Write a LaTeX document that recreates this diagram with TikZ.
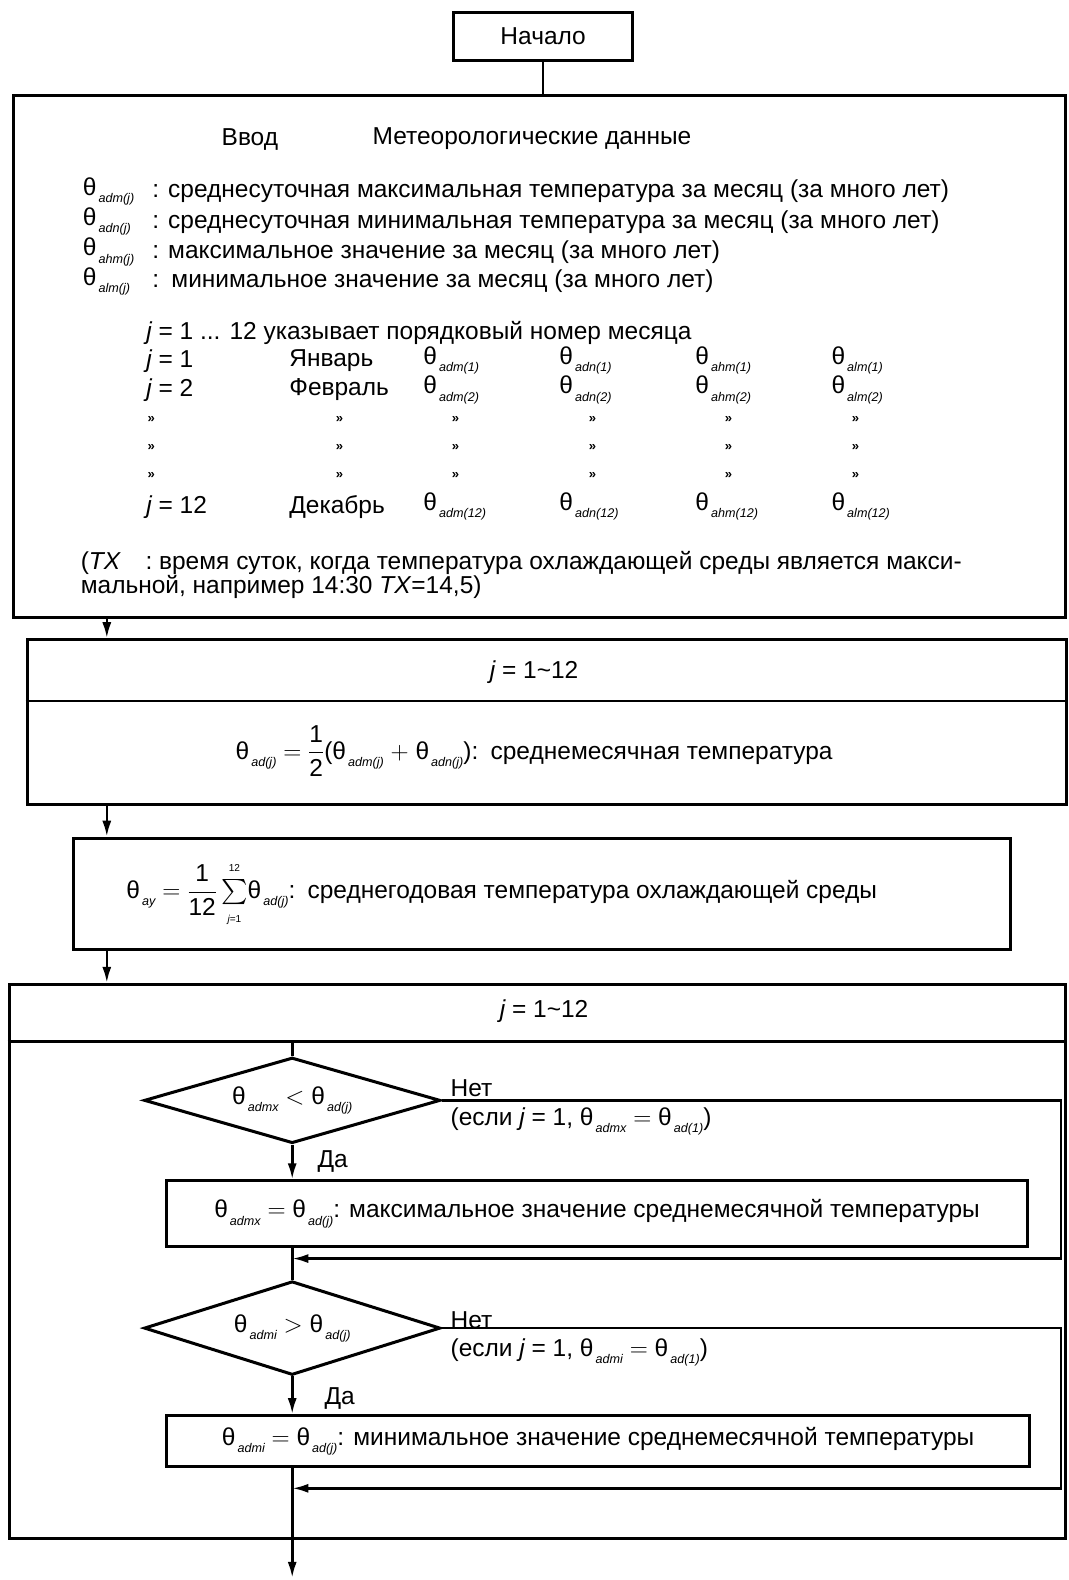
\documentclass[tikz,border=0pt]{standalone}
\usepackage{amsmath}
\usepackage{fontspec}
\setmainfont{Liberation Sans}
\usetikzlibrary{arrows.meta,shapes.geometric}

% theta with a low small italic index
\newcommand\tv[1]{θ\raisebox{-0.55ex}{\fontsize{12.5}{12.5}\selectfont\itshape\,#1}}
\newcommand\sml[1]{\mbox{\fontsize{10}{10}\selectfont #1}}

\begin{document}
\begin{tikzpicture}[x=1pt,y=-1pt,
  font=\fontsize{24.3}{28}\selectfont,
  box/.style={draw, line width=3pt, inner sep=0pt},
  dec/.style={draw, diamond, aspect=3.4, line width=3pt, inner sep=0pt},
  lbl/.style={anchor=west, inner sep=0pt},
  qq/.style={inner sep=0pt, font=\fontsize{13}{13}\selectfont\bfseries},
  line/.style={line width=2.6pt},
  arr/.style={line width=2.6pt, -{Latex[length=16pt,width=9pt]}}]

\useasboundingbox (0,0) rectangle (1060,1568);

%\draw[help lines] (0,0) grid[step=100] (1060,1568);
\node[box, minimum width=178pt, minimum height=48pt] (start) at (539,36) {Начало};

% input block
\node[box, minimum width=1044pt, minimum height=518pt] (inp) at (535,354) {};
\draw[line] (start.south) -- (inp.north -| start.south);
\node (vvod) at (248,138) {Ввод};
\node (meteo) at (528,138) {Метеорологические данные};
\node[lbl] (th1) at (82,190) {\tv{adm(j)}};
\node[lbl] (th2) at (82,220) {\tv{adn(j)}};
\node[lbl] (th3) at (82,250) {\tv{ahm(j)}};
\node[lbl] (th4) at (82,279) {\tv{alm(j)}};
\node[lbl] (col1) at (151,190) {: среднесуточная максимальная температура за месяц (за много лет)};
\node[lbl] (col2) at (151,220) {: среднесуточная минимальная температура за месяц (за много лет)};
\node[lbl] (col3) at (151,250) {: максимальное значение за месяц (за много лет)};
\node[lbl] (col4) at (151,279) {:\enspace минимальное значение за месяц (за много лет)};
\node[lbl] (jall) at (145,330) {{\itshape j} = 1 ... 12 указывает порядковый номер месяца};

\node[lbl] (j1) at (145,358) {{\itshape j} = 1};
\node[lbl] (jan) at (287,358) {Январь};
\node[lbl] (adm1) at (420,358) {\tv{adm(1)}};
\node[lbl] (adn1) at (555,358) {\tv{adn(1)}};
\node[lbl] (ahm1) at (690,358) {\tv{ahm(1)}};
\node[lbl] (alm1) at (825,358) {\tv{alm(1)}};
\node[lbl] (j2) at (145,387) {{\itshape j} = 2};
\node[lbl] (feb) at (287,387) {Февраль};
\node[lbl] (adm2) at (420,387) {\tv{adm(2)}};
\node[lbl] (adn2) at (555,387) {\tv{adn(2)}};
\node[lbl] (ahm2) at (690,387) {\tv{ahm(2)}};
\node[lbl] (alm2) at (825,387) {\tv{alm(2)}};
\node[qq] (q1a) at (150,416) {»};
\node[qq] (q1b) at (337,416) {»};
\node[qq] (q1c) at (452,416) {»};
\node[qq] (q1d) at (588,416) {»};
\node[qq] (q1e) at (723,416) {»};
\node[qq] (q1f) at (849,416) {»};
\node[qq] (q2a) at (150,444) {»};
\node[qq] (q2b) at (337,444) {»};
\node[qq] (q2c) at (452,444) {»};
\node[qq] (q2d) at (588,444) {»};
\node[qq] (q2e) at (723,444) {»};
\node[qq] (q2f) at (849,444) {»};
\node[qq] (q3a) at (150,472) {»};
\node[qq] (q3b) at (337,472) {»};
\node[qq] (q3c) at (452,472) {»};
\node[qq] (q3d) at (588,472) {»};
\node[qq] (q3e) at (723,472) {»};
\node[qq] (q3f) at (849,472) {»};
\node[lbl] (j12) at (145,503) {{\itshape j} = 12};
\node[lbl] (dec) at (287,503) {Декабрь};
\node[lbl] (adm12) at (420,503) {\tv{adm(12)}};
\node[lbl] (adn12) at (555,503) {\tv{adn(12)}};
\node[lbl] (ahm12) at (690,503) {\tv{ahm(12)}};
\node[lbl] (alm12) at (825,503) {\tv{alm(12)}};
\node[lbl] (tx1) at (80,559) {(\textit{TX}\quad: время суток, когда температура охлаждающей среды является макси-};
\node[lbl] (tx2) at (80,582) {мальной, например 14:30 \textit{TX}=14,5)};

% first loop
\coordinate (ax) at (106,0);
\node[box, minimum width=1031pt, minimum height=163pt] (loopa) at (542.5,716.5) {};
\draw[arr] (inp.south -| ax) -- (loopa.north -| ax);
\draw[line] ([yshift=-62pt]loopa.north west) -- ([yshift=-62pt]loopa.north east);
\node (hdra) at (530,667) {{\itshape j} = 1\textasciitilde12};
\node (fmla) at (530,745) {\tv{ad(j)} $=\dfrac{\mbox{1}}{\mbox{2}}$(\tv{adm(j)} $+$ \tv{adn(j)}):\enspace среднемесячная температура};

% yearly mean
\node[box, minimum width=930pt, minimum height=110pt] (avg) at (538,887) {};
\draw[arr] (loopa.south -| ax) -- (avg.north -| ax);
\node (fmlb) at (498,888) {\tv{ay} $=\dfrac{\mbox{1}}{\mbox{12}}\sum\limits_{\raisebox{-3pt}{\sml{\itshape j\upshape =1}}}^{\raisebox{3pt}{\sml{12}}}$\tv{ad(j)}:\enspace среднегодовая температура охлаждающей среды};

% second loop
\node[box, minimum width=1048pt, minimum height=550pt] (loopb) at (533,1252) {};
\draw[arr] (avg.south -| ax) -- (loopb.north -| ax);
\coordinate (divb) at ([yshift=-58pt]loopb.north west);
\draw[line] (divb) -- ([yshift=-58pt]loopb.north east);
\node (hdrb) at (540,1003) {{\itshape j} = 1\textasciitilde12};

\node[dec, minimum width=294pt, minimum height=85pt] (ifmax) at (290,1092) {\tv{admx} $<$ \tv{ad(j)}};
\node[box, minimum width=855pt, minimum height=65pt] (setmax) at (592.5,1204.5) {\tv{admx} $=$ \tv{ad(j)}: максимальное значение среднемесячной температуры};
\node[dec, minimum width=294pt, minimum height=93pt] (ifmin) at (290,1318) {\tv{admi} $>$ \tv{ad(j)}};
\node[box, minimum width=857pt, minimum height=50pt] (setmin) at (593.5,1430) {\tv{admi} $=$ \tv{ad(j)}: минимальное значение среднемесячной температуры};

\node[lbl] (no1) at (447,1080) {Нет};
\node[lbl] (if1) at (447,1113) {(если {\itshape j} = 1, \tv{admx} $=$ \tv{ad(1)})};
\node[lbl] (yes1) at (315,1153) {Да};
\node[lbl] (no2) at (447,1310) {Нет};
\node[lbl] (if2) at (447,1342) {(если {\itshape j} = 1, \tv{admi} $=$ \tv{ad(1)})};
\node[lbl] (yes2) at (322,1388) {Да};

\coordinate (m1) at (290,1249);
\coordinate (m2) at (290,1477);
\coordinate (r1) at (1053,1092);
\coordinate (r2) at (1053,1249);
\coordinate (r3) at (1053,1318);
\coordinate (r4) at (1053,1477);
\coordinate (fin) at (290,1566);

\draw[line] (ifmax.north) -- (ifmax.north |- divb);
\draw[arr] (ifmax.south) -- (setmax.north -| ifmax.south);
\draw[line] (setmax.south -| ifmax.south) -- (m1) -- (ifmin.north);
\draw[arr] (ifmax.east) -- (r1) -- (r2) -- (m1);
\draw[arr] (ifmin.south) -- (setmin.north -| ifmin.south);
\draw[line] (setmin.south -| ifmin.south) -- (m2) -- (loopb.south -| m2);
\draw[arr] (ifmin.east) -- (r3) -- (r4) -- (m2);
\draw[arr] (loopb.south -| m2) -- (fin);
\end{tikzpicture}
\end{document}
